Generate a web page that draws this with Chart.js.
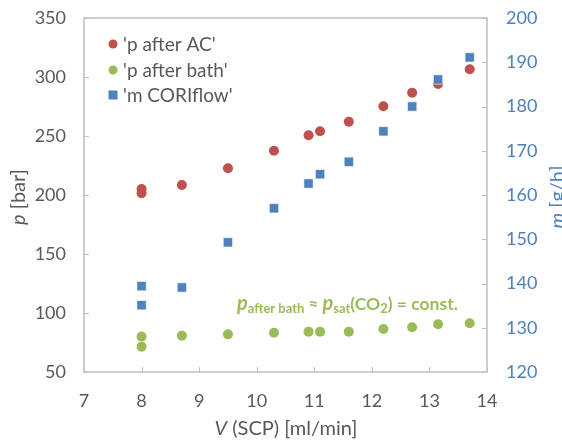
<!DOCTYPE html>
<html>
<head>
<meta charset="utf-8">
<script src="https://cdn.jsdelivr.net/npm/chart.js@4"></script>
<style>
  html, body { margin: 0; padding: 0; background: #fff; }
  #wrap { width: 562px; height: 441px; }
</style>
</head>
<body>
<div id="wrap"><canvas id="chart" width="562" height="441"></canvas></div>
<script>
// 데이터 ======================================================
const xValues    = [8, 8, 8.7, 9.5, 10.3, 10.9, 11.1, 11.6, 12.2, 12.7, 13.15, 13.7];  // V (SCP) [ml/min]
const pAfterAC   = [205, 201.5, 208.5, 222.6, 237.5, 250.6, 254, 262.1, 275.2, 286.7, 294, 306.5];
const pAfterBath = [80, 71.5, 80.8, 81.9, 83.3, 84.2, 84.2, 84.2, 86.4, 87.9, 90.4, 91.3];
const mCoriflow  = [139.4, 135.1, 139.1, 149.3, 157, 162.6, 164.7, 167.5, 174.4, 180, 186.1, 191.1];
const seriesNames = ["'p after AC'", "'p after bath'", "'m CORIflow'"];
const xTicks = [7, 8, 9, 10, 11, 12, 13, 14];
const pTicks = [50, 100, 150, 200, 250, 300, 350];
const mTicks = [120, 130, 140, 150, 160, 170, 180, 190, 200];

const RED = '#C0504D', GREEN = '#9BBB59', BLUE = '#4F81BD';
const GRAY = '#595959', FRAME = '#BFBFBF';
const FONT = 'Lato, "Open Sans", sans-serif';

function toPoints(xs, ys){
    return xs.map((x, i) => ({x: x, y: ys[i]}));
}

// 텍스트 조각 그리기 (이탤릭/아래첨자 섞기)
function drawRuns(ctx, runs, x, y){
    let cx = x;
    runs.forEach((r) => {
        ctx.font = r.font;
        ctx.fillText(r.text, cx, y + (r.dy || 0));
        cx += ctx.measureText(r.text).width;
    });
    return cx - x;
}
function runsWidth(ctx, runs){
    let w = 0;
    runs.forEach((r) => { ctx.font = r.font; w += ctx.measureText(r.text).width; });
    return w;
}

// 축 크기 고정 (라벨 넘침 패딩 제거)
function fixSize(size, horizontal){
    return (s) => {
        if (horizontal) { s.height = size; } else { s.width = size; }
        s.paddingTop = 0; s.paddingBottom = 0;
        s.paddingLeft = 0; s.paddingRight = 0;
    };
}

// 프레임 + 안쪽 눈금
const framePlugin = {
    id: 'frame',
    beforeDatasetsDraw(chart){
        const {ctx, chartArea: a, scales} = chart;
        ctx.save();
        ctx.strokeStyle = FRAME;
        ctx.lineWidth = 1.5;
        ctx.strokeRect(a.left, a.top, a.right - a.left, a.bottom - a.top);
        ctx.lineWidth = 1;
        ctx.beginPath();
        xTicks.forEach((v) => {
            const px = Math.round(scales.x.getPixelForValue(v)) + 0.5;
            ctx.moveTo(px, a.bottom); ctx.lineTo(px, a.bottom - 5);
        });
        pTicks.forEach((v) => {
            const py = Math.round(scales.y.getPixelForValue(v)) + 0.5;
            ctx.moveTo(a.left, py); ctx.lineTo(a.left + 5, py);
        });
        mTicks.forEach((v) => {
            const py = Math.round(scales.y1.getPixelForValue(v)) + 0.5;
            ctx.moveTo(a.right, py); ctx.lineTo(a.right - 5, py);
        });
        ctx.stroke();
        ctx.restore();
    }
};

// 축 제목, 레전드, 주석
const textPlugin = {
    id: 'texts',
    afterDraw(chart){
        const ctx = chart.ctx;
        const a = chart.chartArea;
        ctx.save();
        ctx.textBaseline = 'alphabetic';

        // x축 제목
        ctx.fillStyle = GRAY;
        const xt = [
            {text: 'V', font: 'italic 20px ' + FONT},
            {text: ' (SCP) [ml/min]', font: '20px ' + FONT}
        ];
        const xw = runsWidth(ctx, xt);
        drawRuns(ctx, xt, 286 - xw / 2, 435);

        // 왼쪽 y축 제목
        const yt = [
            {text: 'p', font: 'italic 20px ' + FONT},
            {text: ' [bar]', font: '20px ' + FONT}
        ];
        ctx.save();
        ctx.translate(25, 197);
        ctx.rotate(-Math.PI / 2);
        drawRuns(ctx, yt, -runsWidth(ctx, yt) / 2, 0);
        ctx.restore();

        // 오른쪽 y축 제목
        ctx.fillStyle = BLUE;
        const mt = [
            {text: 'm', font: 'italic 20px ' + FONT},
            {text: ' [g/h]', font: '20px ' + FONT}
        ];
        ctx.save();
        ctx.translate(564, 197);
        ctx.rotate(-Math.PI / 2);
        drawRuns(ctx, mt, -runsWidth(ctx, mt) / 2, 0);
        ctx.restore();

        // 레전드
        const colors = [RED, GREEN, BLUE];
        const rows = [44, 70, 95];
        ctx.font = '19px ' + FONT;
        seriesNames.forEach((name, i) => {
            ctx.fillStyle = colors[i];
            if (i === 2) {
                ctx.fillRect(108.5, rows[i] - 4.5, 9, 9);
            } else {
                ctx.beginPath();
                ctx.arc(113, rows[i], 4.5, 0, Math.PI * 2);
                ctx.fill();
            }
            ctx.fillStyle = GRAY;
            ctx.textBaseline = 'middle';
            ctx.fillText(name, 123, rows[i] + 1);
        });
        ctx.textBaseline = 'alphabetic';

        // 주석
        ctx.fillStyle = GREEN;
        drawRuns(ctx, [
            {text: 'p', font: 'bold italic 20px ' + FONT},
            {text: 'after bath', font: 'bold 13px ' + FONT, dy: 3},
            {text: ' \u2248 ', font: 'bold 17px ' + FONT},
            {text: 'p', font: 'bold italic 20px ' + FONT},
            {text: 'sat', font: 'bold 13px ' + FONT, dy: 3},
            {text: '(CO', font: 'bold 17.5px ' + FONT},
            {text: '2', font: 'bold 13px ' + FONT, dy: 3},
            {text: ') = const.', font: 'bold 17.5px ' + FONT}
        ], 237, 310);

        ctx.restore();
    }
};

const ctx = document.getElementById('chart');
const chart = new Chart(ctx, {
    type: 'scatter',
    data: {
        datasets: [
            {
                label: seriesNames[0],
                data: toPoints(xValues, pAfterAC),
                yAxisID: 'y',
                pointStyle: 'circle',
                pointRadius: 5,
                backgroundColor: RED,
                borderColor: RED,
                borderWidth: 0,
                order: 1
            },
            {
                label: seriesNames[1],
                data: toPoints(xValues, pAfterBath),
                yAxisID: 'y',
                pointStyle: 'circle',
                pointRadius: 5,
                backgroundColor: GREEN,
                borderColor: GREEN,
                borderWidth: 0,
                order: 2
            },
            {
                label: seriesNames[2],
                data: toPoints(xValues, mCoriflow),
                yAxisID: 'y1',
                pointStyle: 'rect',
                pointRadius: 6.6,
                backgroundColor: BLUE,
                borderColor: '#ffffff',
                borderWidth: 0.6,
                order: 0
            }
        ]
    },
    options: {
        responsive: false,
        animation: false,
        devicePixelRatio: 1,
        layout: { padding: { top: 18, left: 0, right: 0, bottom: 0 } },
        plugins: {
            legend: { display: false },
            tooltip: { enabled: false }
        },
        scales: {
            x: {
                type: 'linear',
                min: 7, max: 14,
                afterBuildTicks: (s) => { s.ticks = xTicks.map((v) => ({value: v})); },
                ticks: { color: GRAY, font: { family: FONT, size: 18 }, padding: 18 },
                grid: { display: false, drawTicks: false },
                border: { display: false },
                afterFit: fixSize(69, true)
            },
            y: {
                position: 'left',
                min: 50, max: 350,
                afterBuildTicks: (s) => { s.ticks = pTicks.map((v) => ({value: v})); },
                ticks: { color: GRAY, font: { family: FONT, size: 18 }, padding: 18 },
                grid: { display: false, drawTicks: false },
                border: { display: false },
                afterFit: fixSize(84, false)
            },
            y1: {
                position: 'right',
                min: 120, max: 200,
                afterBuildTicks: (s) => { s.ticks = mTicks.map((v) => ({value: v})); },
                ticks: { color: BLUE, font: { family: FONT, size: 18 }, padding: 19 },
                grid: { display: false, drawTicks: false },
                border: { display: false },
                afterFit: fixSize(75, false)
            }
        }
    },
    plugins: [framePlugin, textPlugin]
});
</script>
</body>
</html>
